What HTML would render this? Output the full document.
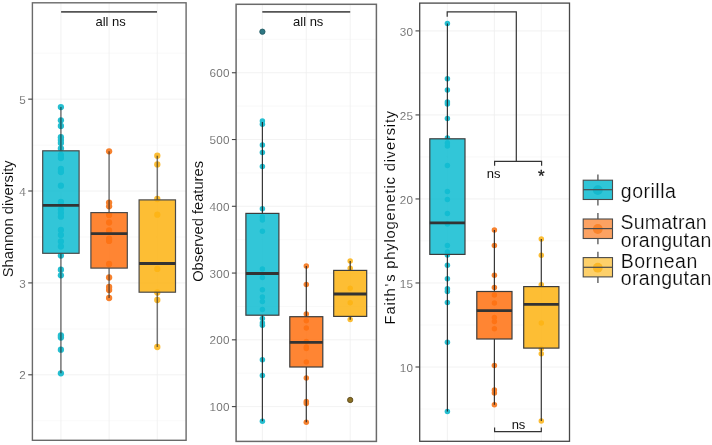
<!DOCTYPE html>
<html lang="en"><head><meta charset="utf-8"><title>Alpha diversity boxplots</title>
<style>html,body{margin:0;padding:0;background:#fff}body{width:712px;height:445px;overflow:hidden}svg{display:block;will-change:transform}text{font-family:"Liberation Sans", Arial, Helvetica, sans-serif}</style>
</head><body>
<svg width="712" height="445" viewBox="0 0 712 445">
<rect width="712" height="445" fill="#fff"/>
<g>
<line x1="32.4" x2="186.1" y1="53.2" y2="53.2" stroke="#f7f7f7" stroke-width="0.8"/>
<line x1="32.4" x2="186.1" y1="145.1" y2="145.1" stroke="#f7f7f7" stroke-width="0.8"/>
<line x1="32.4" x2="186.1" y1="237" y2="237" stroke="#f7f7f7" stroke-width="0.8"/>
<line x1="32.4" x2="186.1" y1="328.9" y2="328.9" stroke="#f7f7f7" stroke-width="0.8"/>
<line x1="32.4" x2="186.1" y1="420.7" y2="420.7" stroke="#f7f7f7" stroke-width="0.8"/>
<line x1="32.4" x2="186.1" y1="99.15" y2="99.15" stroke="#efefef" stroke-width="0.8"/>
<line x1="32.4" x2="186.1" y1="191" y2="191" stroke="#efefef" stroke-width="0.8"/>
<line x1="32.4" x2="186.1" y1="282.9" y2="282.9" stroke="#efefef" stroke-width="0.8"/>
<line x1="32.4" x2="186.1" y1="374.8" y2="374.8" stroke="#efefef" stroke-width="0.8"/>
<line x1="60.9" x2="60.9" y1="2.8" y2="440.3" stroke="#efefef" stroke-width="0.8"/>
<line x1="109.1" x2="109.1" y1="2.8" y2="440.3" stroke="#efefef" stroke-width="0.8"/>
<line x1="157.3" x2="157.3" y1="2.8" y2="440.3" stroke="#efefef" stroke-width="0.8"/>
<g fill="#26bed0">
<circle cx="60.9" cy="107.1" r="3.15"/>
<circle cx="60.9" cy="120.3" r="3.15"/>
<circle cx="60.9" cy="126" r="3.15"/>
<circle cx="60.9" cy="137.2" r="3.15"/>
<circle cx="60.9" cy="140" r="3.15"/>
<circle cx="60.9" cy="143" r="3.15"/>
<circle cx="60.9" cy="148.5" r="3.15"/>
<circle cx="60.9" cy="155" r="3.15"/>
<circle cx="60.9" cy="158" r="3.15"/>
<circle cx="60.9" cy="169" r="3.15"/>
<circle cx="60.9" cy="172" r="3.15"/>
<circle cx="60.9" cy="185.7" r="3.15"/>
<circle cx="60.9" cy="202" r="3.15"/>
<circle cx="60.9" cy="209.3" r="3.15"/>
<circle cx="60.9" cy="213" r="3.15"/>
<circle cx="60.9" cy="216.7" r="3.15"/>
<circle cx="60.9" cy="230" r="3.15"/>
<circle cx="60.9" cy="235" r="3.15"/>
<circle cx="60.9" cy="241.5" r="3.15"/>
<circle cx="60.9" cy="246.5" r="3.15"/>
<circle cx="60.9" cy="255.6" r="3.15"/>
<circle cx="60.9" cy="269.7" r="3.15"/>
<circle cx="60.9" cy="275.3" r="3.15"/>
<circle cx="60.9" cy="335.5" r="3.15"/>
<circle cx="60.9" cy="337.5" r="3.15"/>
<circle cx="60.9" cy="349.7" r="3.15"/>
<circle cx="60.9" cy="373.3" r="3.15"/>
</g>
<line x1="60.9" x2="60.9" y1="107.1" y2="150.8" stroke="#202020" stroke-opacity="0.6" stroke-width="1.5"/>
<line x1="60.9" x2="60.9" y1="253.3" y2="373.3" stroke="#202020" stroke-opacity="0.6" stroke-width="1.5"/>
<rect x="42.7" y="150.8" width="36.4" height="102.5" fill="#10bdd2" fill-opacity="0.86" stroke="#4a4a4a" stroke-width="1.2"/>
<line x1="42.7" x2="79.1" y1="205.4" y2="205.4" stroke="#333" stroke-width="2.8"/>
<g fill="#f6822f">
<circle cx="109.1" cy="151.3" r="3.15"/>
<circle cx="109.1" cy="202.6" r="3.15"/>
<circle cx="109.1" cy="206.3" r="3.15"/>
<circle cx="109.1" cy="215" r="3.15"/>
<circle cx="109.1" cy="222.5" r="3.15"/>
<circle cx="109.1" cy="230.4" r="3.15"/>
<circle cx="109.1" cy="238.7" r="3.15"/>
<circle cx="109.1" cy="240.9" r="3.15"/>
<circle cx="109.1" cy="264" r="3.15"/>
<circle cx="109.1" cy="277.5" r="3.15"/>
<circle cx="109.1" cy="287" r="3.15"/>
<circle cx="109.1" cy="290" r="3.15"/>
<circle cx="109.1" cy="298" r="3.15"/>
</g>
<line x1="109.1" x2="109.1" y1="151.3" y2="212.6" stroke="#202020" stroke-opacity="0.6" stroke-width="1.5"/>
<line x1="109.1" x2="109.1" y1="268.1" y2="298" stroke="#202020" stroke-opacity="0.6" stroke-width="1.5"/>
<rect x="90.9" y="212.6" width="36.4" height="55.5" fill="#ff7111" fill-opacity="0.86" stroke="#4a4a4a" stroke-width="1.2"/>
<line x1="90.9" x2="127.3" y1="233.7" y2="233.7" stroke="#333" stroke-width="2.8"/>
<g fill="#fbbd35">
<circle cx="157.3" cy="155.7" r="3.15"/>
<circle cx="157.3" cy="164.4" r="3.15"/>
<circle cx="157.3" cy="199" r="3.15"/>
<circle cx="157.3" cy="214.7" r="3.15"/>
<circle cx="157.3" cy="268.9" r="3.15"/>
<circle cx="157.3" cy="292.5" r="3.15"/>
<circle cx="157.3" cy="300" r="3.15"/>
<circle cx="157.3" cy="347" r="3.15"/>
</g>
<line x1="157.3" x2="157.3" y1="155.7" y2="199.9" stroke="#202020" stroke-opacity="0.6" stroke-width="1.5"/>
<line x1="157.3" x2="157.3" y1="292.2" y2="347" stroke="#202020" stroke-opacity="0.6" stroke-width="1.5"/>
<rect x="139.1" y="199.9" width="36.4" height="92.3" fill="#fdb313" fill-opacity="0.86" stroke="#4a4a4a" stroke-width="1.2"/>
<line x1="139.1" x2="175.5" y1="263.5" y2="263.5" stroke="#333" stroke-width="2.8"/>
<rect x="32.4" y="2.8" width="153.7" height="437.5" fill="none" stroke="#6a6a6a" stroke-width="1.4"/>
<line x1="28.2" x2="32.4" y1="99.15" y2="99.15" stroke="#444" stroke-width="1.1"/>
<text x="26" y="103.75" font-size="11.7" fill="#636363" stroke="#fff" stroke-width="0.12" letter-spacing="0.25" text-anchor="end">5</text>
<line x1="28.2" x2="32.4" y1="191" y2="191" stroke="#444" stroke-width="1.1"/>
<text x="26" y="195.6" font-size="11.7" fill="#636363" stroke="#fff" stroke-width="0.12" letter-spacing="0.25" text-anchor="end">4</text>
<line x1="28.2" x2="32.4" y1="282.9" y2="282.9" stroke="#444" stroke-width="1.1"/>
<text x="26" y="287.5" font-size="11.7" fill="#636363" stroke="#fff" stroke-width="0.12" letter-spacing="0.25" text-anchor="end">3</text>
<line x1="28.2" x2="32.4" y1="374.8" y2="374.8" stroke="#444" stroke-width="1.1"/>
<text x="26" y="379.4" font-size="11.7" fill="#636363" stroke="#fff" stroke-width="0.12" letter-spacing="0.25" text-anchor="end">2</text>
<text transform="translate(13.4 218.8) rotate(-90)" font-size="14.7" fill="#000" stroke="#fff" stroke-width="0.1" text-anchor="middle">Shannon diversity</text>
</g>
<g>
<line x1="236.1" x2="376.4" y1="39.37" y2="39.37" stroke="#f7f7f7" stroke-width="0.8"/>
<line x1="236.1" x2="376.4" y1="106.13" y2="106.13" stroke="#f7f7f7" stroke-width="0.8"/>
<line x1="236.1" x2="376.4" y1="172.91" y2="172.91" stroke="#f7f7f7" stroke-width="0.8"/>
<line x1="236.1" x2="376.4" y1="239.67" y2="239.67" stroke="#f7f7f7" stroke-width="0.8"/>
<line x1="236.1" x2="376.4" y1="306.44" y2="306.44" stroke="#f7f7f7" stroke-width="0.8"/>
<line x1="236.1" x2="376.4" y1="373.21" y2="373.21" stroke="#f7f7f7" stroke-width="0.8"/>
<line x1="236.1" x2="376.4" y1="72.75" y2="72.75" stroke="#efefef" stroke-width="0.8"/>
<line x1="236.1" x2="376.4" y1="139.52" y2="139.52" stroke="#efefef" stroke-width="0.8"/>
<line x1="236.1" x2="376.4" y1="206.29" y2="206.29" stroke="#efefef" stroke-width="0.8"/>
<line x1="236.1" x2="376.4" y1="273.06" y2="273.06" stroke="#efefef" stroke-width="0.8"/>
<line x1="236.1" x2="376.4" y1="339.83" y2="339.83" stroke="#efefef" stroke-width="0.8"/>
<line x1="236.1" x2="376.4" y1="406.6" y2="406.6" stroke="#efefef" stroke-width="0.8"/>
<line x1="262.4" x2="262.4" y1="4.3" y2="441.4" stroke="#efefef" stroke-width="0.8"/>
<line x1="306.3" x2="306.3" y1="4.3" y2="441.4" stroke="#efefef" stroke-width="0.8"/>
<line x1="350.2" x2="350.2" y1="4.3" y2="441.4" stroke="#efefef" stroke-width="0.8"/>
<g fill="#26bed0">
<circle cx="262.4" cy="121.1" r="2.75"/>
<circle cx="262.4" cy="124.2" r="2.75"/>
<circle cx="262.4" cy="145.1" r="2.75"/>
<circle cx="262.4" cy="152.6" r="2.75"/>
<circle cx="262.4" cy="166.6" r="2.75"/>
<circle cx="262.4" cy="208.7" r="2.75"/>
<circle cx="262.4" cy="217" r="2.75"/>
<circle cx="262.4" cy="220" r="2.75"/>
<circle cx="262.4" cy="231.2" r="2.75"/>
<circle cx="262.4" cy="268.9" r="2.75"/>
<circle cx="262.4" cy="277.4" r="2.75"/>
<circle cx="262.4" cy="289.8" r="2.75"/>
<circle cx="262.4" cy="297" r="2.75"/>
<circle cx="262.4" cy="301.6" r="2.75"/>
<circle cx="262.4" cy="309.4" r="2.75"/>
<circle cx="262.4" cy="318.5" r="2.75"/>
<circle cx="262.4" cy="323" r="2.75"/>
<circle cx="262.4" cy="325.3" r="2.75"/>
<circle cx="262.4" cy="359.7" r="2.75"/>
<circle cx="262.4" cy="375.6" r="2.75"/>
<circle cx="262.4" cy="421.3" r="2.75"/>
</g>
<circle cx="262.4" cy="31.7" r="2.65" fill="#2d7783" stroke="#225a63" stroke-width="0.9"/>
<line x1="262.4" x2="262.4" y1="122" y2="213.4" stroke="#1c1c1c" stroke-opacity="0.87" stroke-width="1.2"/>
<line x1="262.4" x2="262.4" y1="315.2" y2="421.3" stroke="#1c1c1c" stroke-opacity="0.87" stroke-width="1.2"/>
<rect x="245.9" y="213.4" width="33" height="101.8" fill="#10bdd2" fill-opacity="0.86" stroke="#3c3c3c" stroke-width="1.2"/>
<line x1="245.9" x2="278.9" y1="273.5" y2="273.5" stroke="#333" stroke-width="2.8"/>
<g fill="#f6822f">
<circle cx="306.3" cy="265.9" r="2.75"/>
<circle cx="306.3" cy="284.5" r="2.75"/>
<circle cx="306.3" cy="314" r="2.75"/>
<circle cx="306.3" cy="320.8" r="2.75"/>
<circle cx="306.3" cy="328" r="2.75"/>
<circle cx="306.3" cy="341.6" r="2.75"/>
<circle cx="306.3" cy="347" r="2.75"/>
<circle cx="306.3" cy="348.4" r="2.75"/>
<circle cx="306.3" cy="361.9" r="2.75"/>
<circle cx="306.3" cy="378.1" r="2.75"/>
<circle cx="306.3" cy="401.5" r="2.75"/>
<circle cx="306.3" cy="403.5" r="2.75"/>
<circle cx="306.3" cy="422.2" r="2.75"/>
</g>
<line x1="306.3" x2="306.3" y1="265.9" y2="316.7" stroke="#1c1c1c" stroke-opacity="0.87" stroke-width="1.2"/>
<line x1="306.3" x2="306.3" y1="367" y2="422.2" stroke="#1c1c1c" stroke-opacity="0.87" stroke-width="1.2"/>
<rect x="289.8" y="316.7" width="33" height="50.3" fill="#ff7111" fill-opacity="0.86" stroke="#3c3c3c" stroke-width="1.2"/>
<line x1="289.8" x2="322.8" y1="342.4" y2="342.4" stroke="#333" stroke-width="2.8"/>
<g fill="#fbbd35">
<circle cx="350.2" cy="261" r="2.75"/>
<circle cx="350.2" cy="268.3" r="2.75"/>
<circle cx="350.2" cy="288.2" r="2.75"/>
<circle cx="350.2" cy="302.7" r="2.75"/>
<circle cx="350.2" cy="319.5" r="2.75"/>
</g>
<circle cx="350.2" cy="400" r="2.65" fill="#8d7224" stroke="#5e4b1f" stroke-width="0.9"/>
<line x1="350.2" x2="350.2" y1="261" y2="270.4" stroke="#1c1c1c" stroke-opacity="0.87" stroke-width="1.2"/>
<line x1="350.2" x2="350.2" y1="316.4" y2="319.7" stroke="#1c1c1c" stroke-opacity="0.87" stroke-width="1.2"/>
<rect x="333.7" y="270.4" width="33" height="46" fill="#fdb313" fill-opacity="0.86" stroke="#3c3c3c" stroke-width="1.2"/>
<line x1="333.7" x2="366.7" y1="294" y2="294" stroke="#333" stroke-width="2.8"/>
<rect x="236.1" y="4.3" width="140.3" height="437.1" fill="none" stroke="#6a6a6a" stroke-width="1.5"/>
<line x1="231.9" x2="236.1" y1="72.75" y2="72.75" stroke="#444" stroke-width="1.1"/>
<text x="229.7" y="77.35" font-size="11.7" fill="#636363" stroke="#fff" stroke-width="0.12" letter-spacing="0.25" text-anchor="end">600</text>
<line x1="231.9" x2="236.1" y1="139.52" y2="139.52" stroke="#444" stroke-width="1.1"/>
<text x="229.7" y="144.12" font-size="11.7" fill="#636363" stroke="#fff" stroke-width="0.12" letter-spacing="0.25" text-anchor="end">500</text>
<line x1="231.9" x2="236.1" y1="206.29" y2="206.29" stroke="#444" stroke-width="1.1"/>
<text x="229.7" y="210.89" font-size="11.7" fill="#636363" stroke="#fff" stroke-width="0.12" letter-spacing="0.25" text-anchor="end">400</text>
<line x1="231.9" x2="236.1" y1="273.06" y2="273.06" stroke="#444" stroke-width="1.1"/>
<text x="229.7" y="277.66" font-size="11.7" fill="#636363" stroke="#fff" stroke-width="0.12" letter-spacing="0.25" text-anchor="end">300</text>
<line x1="231.9" x2="236.1" y1="339.83" y2="339.83" stroke="#444" stroke-width="1.1"/>
<text x="229.7" y="344.43" font-size="11.7" fill="#636363" stroke="#fff" stroke-width="0.12" letter-spacing="0.25" text-anchor="end">200</text>
<line x1="231.9" x2="236.1" y1="406.6" y2="406.6" stroke="#444" stroke-width="1.1"/>
<text x="229.7" y="411.2" font-size="11.7" fill="#636363" stroke="#fff" stroke-width="0.12" letter-spacing="0.25" text-anchor="end">100</text>
<text transform="translate(202.5 221.4) rotate(-90)" font-size="14.7" fill="#000" stroke="#fff" stroke-width="0.1" text-anchor="middle">Observed features</text>
</g>
<g>
<line x1="419.7" x2="569.5" y1="72.91" y2="72.91" stroke="#f7f7f7" stroke-width="0.8"/>
<line x1="419.7" x2="569.5" y1="156.94" y2="156.94" stroke="#f7f7f7" stroke-width="0.8"/>
<line x1="419.7" x2="569.5" y1="240.96" y2="240.96" stroke="#f7f7f7" stroke-width="0.8"/>
<line x1="419.7" x2="569.5" y1="324.99" y2="324.99" stroke="#f7f7f7" stroke-width="0.8"/>
<line x1="419.7" x2="569.5" y1="409.01" y2="409.01" stroke="#f7f7f7" stroke-width="0.8"/>
<line x1="419.7" x2="569.5" y1="30.9" y2="30.9" stroke="#efefef" stroke-width="0.8"/>
<line x1="419.7" x2="569.5" y1="114.93" y2="114.93" stroke="#efefef" stroke-width="0.8"/>
<line x1="419.7" x2="569.5" y1="198.95" y2="198.95" stroke="#efefef" stroke-width="0.8"/>
<line x1="419.7" x2="569.5" y1="282.97" y2="282.97" stroke="#efefef" stroke-width="0.8"/>
<line x1="419.7" x2="569.5" y1="367" y2="367" stroke="#efefef" stroke-width="0.8"/>
<line x1="447.4" x2="447.4" y1="3.1" y2="441.3" stroke="#efefef" stroke-width="0.8"/>
<line x1="494.4" x2="494.4" y1="3.1" y2="441.3" stroke="#efefef" stroke-width="0.8"/>
<line x1="541.3" x2="541.3" y1="3.1" y2="441.3" stroke="#efefef" stroke-width="0.8"/>
<g fill="#26bed0">
<circle cx="447.4" cy="23.5" r="2.75"/>
<circle cx="447.4" cy="78.7" r="2.75"/>
<circle cx="447.4" cy="90.1" r="2.75"/>
<circle cx="447.4" cy="102" r="2.75"/>
<circle cx="447.4" cy="104" r="2.75"/>
<circle cx="447.4" cy="118.4" r="2.75"/>
<circle cx="447.4" cy="137.9" r="2.75"/>
<circle cx="447.4" cy="143" r="2.75"/>
<circle cx="447.4" cy="146" r="2.75"/>
<circle cx="447.4" cy="165.4" r="2.75"/>
<circle cx="447.4" cy="191.6" r="2.75"/>
<circle cx="447.4" cy="199.4" r="2.75"/>
<circle cx="447.4" cy="213.5" r="2.75"/>
<circle cx="447.4" cy="224" r="2.75"/>
<circle cx="447.4" cy="245.4" r="2.75"/>
<circle cx="447.4" cy="252.1" r="2.75"/>
<circle cx="447.4" cy="255" r="2.75"/>
<circle cx="447.4" cy="265.2" r="2.75"/>
<circle cx="447.4" cy="278.7" r="2.75"/>
<circle cx="447.4" cy="288.8" r="2.75"/>
<circle cx="447.4" cy="291.6" r="2.75"/>
<circle cx="447.4" cy="302.4" r="2.75"/>
<circle cx="447.4" cy="342.3" r="2.75"/>
<circle cx="447.4" cy="411.5" r="2.75"/>
</g>
<line x1="447.4" x2="447.4" y1="23.5" y2="138.8" stroke="#1c1c1c" stroke-opacity="0.87" stroke-width="1.2"/>
<line x1="447.4" x2="447.4" y1="254.4" y2="411.5" stroke="#1c1c1c" stroke-opacity="0.87" stroke-width="1.2"/>
<rect x="429.8" y="138.8" width="35.2" height="115.6" fill="#10bdd2" fill-opacity="0.86" stroke="#3c3c3c" stroke-width="1.2"/>
<line x1="429.8" x2="465" y1="222.9" y2="222.9" stroke="#333" stroke-width="2.8"/>
<g fill="#f6822f">
<circle cx="494.4" cy="230.1" r="2.75"/>
<circle cx="494.4" cy="245.4" r="2.75"/>
<circle cx="494.4" cy="275.3" r="2.75"/>
<circle cx="494.4" cy="287.6" r="2.75"/>
<circle cx="494.4" cy="295" r="2.75"/>
<circle cx="494.4" cy="303" r="2.75"/>
<circle cx="494.4" cy="317.5" r="2.75"/>
<circle cx="494.4" cy="321.5" r="2.75"/>
<circle cx="494.4" cy="328.8" r="2.75"/>
<circle cx="494.4" cy="365.6" r="2.75"/>
<circle cx="494.4" cy="390" r="2.75"/>
<circle cx="494.4" cy="393" r="2.75"/>
<circle cx="494.4" cy="404.8" r="2.75"/>
</g>
<line x1="494.4" x2="494.4" y1="230.1" y2="291.5" stroke="#1c1c1c" stroke-opacity="0.87" stroke-width="1.2"/>
<line x1="494.4" x2="494.4" y1="339" y2="404.8" stroke="#1c1c1c" stroke-opacity="0.87" stroke-width="1.2"/>
<rect x="476.8" y="291.5" width="35.2" height="47.5" fill="#ff7111" fill-opacity="0.86" stroke="#3c3c3c" stroke-width="1.2"/>
<line x1="476.8" x2="512" y1="310.7" y2="310.7" stroke="#333" stroke-width="2.8"/>
<g fill="#fbbd35">
<circle cx="541.3" cy="239.1" r="2.75"/>
<circle cx="541.3" cy="255.2" r="2.75"/>
<circle cx="541.3" cy="284.7" r="2.75"/>
<circle cx="541.3" cy="323.1" r="2.75"/>
<circle cx="541.3" cy="348.8" r="2.75"/>
<circle cx="541.3" cy="353.7" r="2.75"/>
<circle cx="541.3" cy="421.1" r="2.75"/>
</g>
<line x1="541.3" x2="541.3" y1="239.1" y2="286.6" stroke="#1c1c1c" stroke-opacity="0.87" stroke-width="1.2"/>
<line x1="541.3" x2="541.3" y1="348.1" y2="421.1" stroke="#1c1c1c" stroke-opacity="0.87" stroke-width="1.2"/>
<rect x="523.7" y="286.6" width="35.2" height="61.5" fill="#fdb313" fill-opacity="0.86" stroke="#3c3c3c" stroke-width="1.2"/>
<line x1="523.7" x2="558.9" y1="304.4" y2="304.4" stroke="#333" stroke-width="2.8"/>
<rect x="419.7" y="3.1" width="149.8" height="438.2" fill="none" stroke="#484848" stroke-width="1.3"/>
<line x1="415.5" x2="419.7" y1="30.9" y2="30.9" stroke="#444" stroke-width="1.1"/>
<text x="413.3" y="35.5" font-size="11.7" fill="#636363" stroke="#fff" stroke-width="0.12" letter-spacing="0.25" text-anchor="end">30</text>
<line x1="415.5" x2="419.7" y1="114.93" y2="114.93" stroke="#444" stroke-width="1.1"/>
<text x="413.3" y="119.53" font-size="11.7" fill="#636363" stroke="#fff" stroke-width="0.12" letter-spacing="0.25" text-anchor="end">25</text>
<line x1="415.5" x2="419.7" y1="198.95" y2="198.95" stroke="#444" stroke-width="1.1"/>
<text x="413.3" y="203.55" font-size="11.7" fill="#636363" stroke="#fff" stroke-width="0.12" letter-spacing="0.25" text-anchor="end">20</text>
<line x1="415.5" x2="419.7" y1="282.97" y2="282.97" stroke="#444" stroke-width="1.1"/>
<text x="413.3" y="287.57" font-size="11.7" fill="#636363" stroke="#fff" stroke-width="0.12" letter-spacing="0.25" text-anchor="end">15</text>
<line x1="415.5" x2="419.7" y1="367" y2="367" stroke="#444" stroke-width="1.1"/>
<text x="413.3" y="371.6" font-size="11.7" fill="#636363" stroke="#fff" stroke-width="0.12" letter-spacing="0.25" text-anchor="end">10</text>
<text transform="translate(394.6 324.4) rotate(-90)" font-size="14.7" fill="#000" stroke="#fff" stroke-width="0.1" letter-spacing="0.83">Faith<tspan dx="1.1">&#39;</tspan><tspan dx="1.1">s</tspan> phylogenetic diversity</text>
</g>
<g stroke="#555" stroke-width="1.8" fill="none">
<line x1="61.1" x2="157" y1="11.8" y2="11.8"/>
<line x1="262.3" x2="350.2" y1="11.9" y2="11.9"/>
</g>
<g font-size="13" fill="#101010" text-anchor="middle">
<text x="110.6" y="25.5">all ns</text>
<text x="308.2" y="25.5">all ns</text>
<g stroke="#333" stroke-width="1.2" fill="none">
<path d="M447.2 16.8V11.9H516.3V161.3"/>
<path d="M494.6 165.8V161.3H541.6V165.8"/>
<path d="M494.6 427.5V431.6H541.3V427.5"/>
</g>
<text x="493.7" y="177.6">ns</text>
<text x="518.5" y="429">ns</text>
</g>
<text x="541.3" y="181.8" font-size="17" fill="#1a1a1a" stroke="#1a1a1a" stroke-width="0.3" text-anchor="middle">*</text>
<line x1="597.9" x2="597.9" y1="174.6" y2="180.2" stroke="#6a6a6a" stroke-width="1.5"/>
<line x1="597.9" x2="597.9" y1="199.5" y2="205.4" stroke="#6a6a6a" stroke-width="1.5"/>
<rect x="583.2" y="180.2" width="29.3" height="19.3" fill="#2fc5d7" stroke="#4a4a4a" stroke-width="1.1"/>
<circle cx="597.8" cy="190.1" r="4.9" fill="#16b9cd"/>
<line x1="583.2" x2="612.5" y1="189.7" y2="189.7" stroke="#4a4a4a" stroke-width="1.2"/>
<line x1="597.9" x2="597.9" y1="212.9" y2="219" stroke="#6a6a6a" stroke-width="1.5"/>
<line x1="597.9" x2="597.9" y1="238.5" y2="244.3" stroke="#6a6a6a" stroke-width="1.5"/>
<rect x="583.2" y="219" width="29.3" height="19.5" fill="#fca262" stroke="#4a4a4a" stroke-width="1.1"/>
<circle cx="597.8" cy="229" r="4.9" fill="#f9842c"/>
<line x1="583.2" x2="612.5" y1="228.6" y2="228.6" stroke="#4a4a4a" stroke-width="1.2"/>
<line x1="597.9" x2="597.9" y1="251.8" y2="257.6" stroke="#6a6a6a" stroke-width="1.5"/>
<line x1="597.9" x2="597.9" y1="276.9" y2="282.9" stroke="#6a6a6a" stroke-width="1.5"/>
<rect x="583.2" y="257.6" width="29.3" height="19.3" fill="#fdd06a" stroke="#4a4a4a" stroke-width="1.1"/>
<circle cx="597.8" cy="267.7" r="4.9" fill="#fbb828"/>
<line x1="583.2" x2="612.5" y1="267.3" y2="267.3" stroke="#4a4a4a" stroke-width="1.2"/>
<g font-size="19.5" fill="#0c0c0c" stroke="#fff" stroke-width="0.2">
<text x="620.8" y="197.9" letter-spacing="0.5">gorilla</text>
<text x="620.4" y="228.8" letter-spacing="0.25">Sumatran</text>
<text x="620.8" y="247" letter-spacing="0.34">orangutan</text>
<text x="620.7" y="267.5" letter-spacing="0.48">Bornean</text>
<text x="620.8" y="285.4" letter-spacing="0.34">orangutan</text>
</g>
</svg></body></html>
